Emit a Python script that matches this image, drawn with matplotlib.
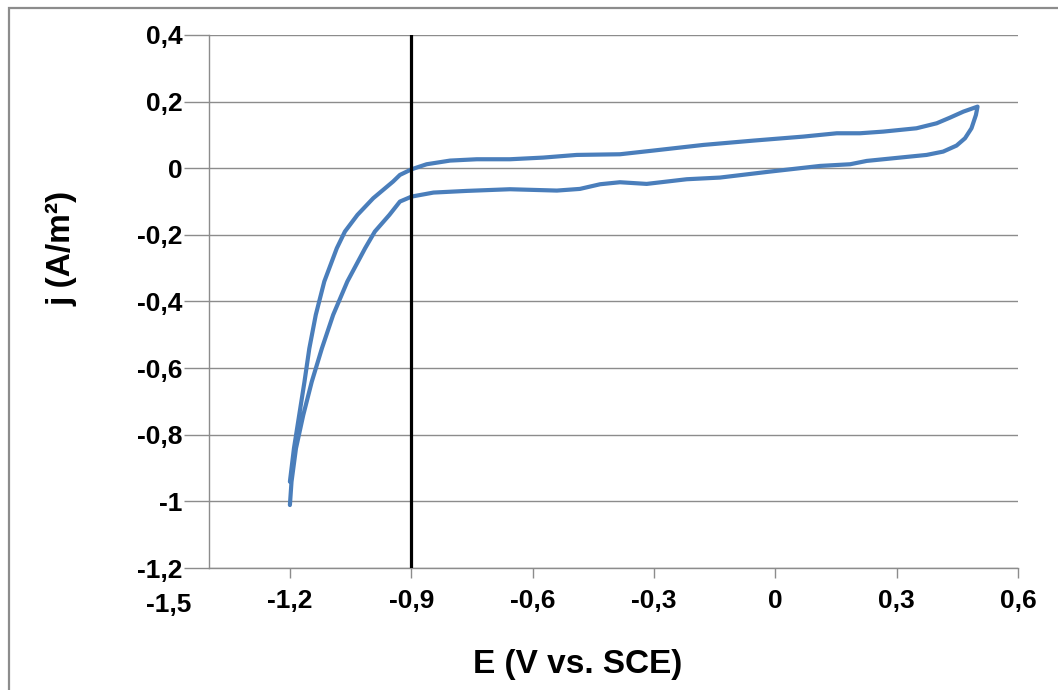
import matplotlib
matplotlib.use("Agg")
import matplotlib.pyplot as plt
from matplotlib.patches import Rectangle

plt.rcParams['font.family'] = ['Liberation Sans', 'DejaVu Sans']
plt.rcParams['font.weight'] = 'bold'

# Forward (anodic) scan: -1.2 V -> 0.5 V
E_fwd = [-1.200, -1.190, -1.177, -1.164, -1.152, -1.136, -1.115, -1.084, -1.064,
         -1.033, -0.994, -0.945, -0.928, -0.899, -0.862, -0.804, -0.738, -0.656,
         -0.574, -0.491, -0.384, -0.302, -0.178, -0.054, 0.069, 0.152, 0.209,
         0.267, 0.349, 0.399, 0.432, 0.465, 0.500]
j_fwd = [-0.941, -0.841, -0.741, -0.641, -0.541, -0.440, -0.340, -0.240, -0.190,
         -0.140, -0.090, -0.040, -0.020, -0.003, 0.012, 0.023, 0.027, 0.027,
         0.032, 0.040, 0.042, 0.053, 0.070, 0.083, 0.095, 0.105, 0.105,
         0.110, 0.120, 0.135, 0.152, 0.170, 0.185]

# Reverse (cathodic) scan: 0.5 V -> -1.2 V
E_rev = [0.500, 0.496, 0.485, 0.469, 0.448, 0.415, 0.374, 0.308, 0.226, 0.185,
         0.111, -0.013, -0.137, -0.219, -0.318, -0.384, -0.433, -0.483, -0.540,
         -0.656, -0.763, -0.845, -0.899, -0.928, -0.954, -0.990, -1.014, -1.058,
         -1.093, -1.121, -1.146, -1.167, -1.185, -1.196, -1.200]
j_rev = [0.185, 0.160, 0.120, 0.090, 0.068, 0.050, 0.040, 0.032, 0.022, 0.012,
         0.007, -0.010, -0.028, -0.033, -0.047, -0.042, -0.048, -0.062, -0.067,
         -0.063, -0.068, -0.073, -0.085, -0.100, -0.140, -0.190, -0.240, -0.340,
         -0.440, -0.541, -0.641, -0.741, -0.841, -0.941, -1.011]

x_ticks = [-1.2, -0.9, -0.6, -0.3, 0.0, 0.3, 0.6]
x_tick_labels = ["-1,2", "-0,9", "-0,6", "-0,3", "0", "0,3", "0,6"]
x_first_label = "-1,5"
y_ticks = [0.4, 0.2, 0.0, -0.2, -0.4, -0.6, -0.8, -1.0, -1.2]
y_tick_labels = ["0,4", "0,2", "0", "-0,2", "-0,4", "-0,6", "-0,8", "-1", "-1,2"]
marker_E = -0.9

fig = plt.figure(figsize=(10.58, 6.90), dpi=100)
ax = fig.add_axes([209/1058, 1 - 568/690, (1018-209)/1058, (568-35)/690])

gray = '#8c8c8c'
line_blue = '#4a7ebb'

ax.plot(E_fwd + E_rev, j_fwd + j_rev, color=line_blue, lw=3.0,
        solid_joinstyle='round', solid_capstyle='round', zorder=3)
ax.axvline(marker_E, color='black', lw=2.3, zorder=4)

ax.set_xlim(-1.4, 0.6)
ax.set_ylim(-1.2, 0.4)
ax.set_xticks(x_ticks)
ax.set_xticklabels(x_tick_labels)
ax.set_yticks(y_ticks)
ax.set_yticklabels(y_tick_labels)

ax.yaxis.grid(True, color=gray, lw=1.0)
ax.set_axisbelow(True)
for s in ['top', 'right']:
    ax.spines[s].set_visible(False)
for s in ['left', 'bottom']:
    ax.spines[s].set_color(gray)
    ax.spines[s].set_linewidth(1.0)

ax.tick_params(axis='y', direction='out', length=18, width=1.0, color=gray,
               pad=1, labelsize=19)
ax.tick_params(axis='x', direction='out', length=7, width=1.0, color=gray,
               pad=8, labelsize=19)

ax.text(-1.5, -1.2 - 25/333, x_first_label, ha='center', va='top',
        fontsize=19, fontweight='bold', clip_on=False)

fig.text(578/1058, 1 - 665/690, "E (V vs. SCE)", ha='center', va='center',
         fontsize=24, fontweight='bold')
fig.text(62/1058, 1 - 248/690, "j (A/m²)", ha='center', va='center',
         rotation=90, fontsize=24, fontweight='bold')

fig.patches.append(Rectangle((9/1058, -0.1), 1.2, 1.1 - 8/690,
                             transform=fig.transFigure, fill=False,
                             edgecolor=gray, lw=1.6))

fig.savefig("out.png", dpi=100)
